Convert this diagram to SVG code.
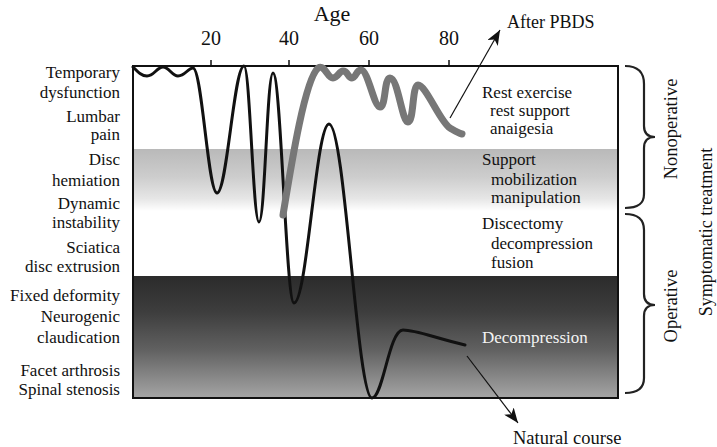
<svg xmlns="http://www.w3.org/2000/svg" width="717" height="447" viewBox="0 0 717 447" font-family="'Liberation Serif', 'DejaVu Serif', serif">
<style>
text{font-family:'Liberation Serif','DejaVu Serif',serif;fill:#111}
.l{font-size:17px;text-anchor:end}
.r{font-size:17px}
.ax{font-size:20px;text-anchor:middle}
.v{font-size:18.5px;text-anchor:middle}
.frame{fill:none;stroke:#111;stroke-width:2}
.br{fill:none;stroke:#222;stroke-width:2.2}
.arr{stroke:#111;stroke-width:1.2;fill:none}
</style>
<defs>
<linearGradient id="gband" x1="0" y1="0" x2="0" y2="1">
<stop offset="0" stop-color="#b9b9b9"/>
<stop offset="0.45" stop-color="#cdcdcd"/>
<stop offset="0.8" stop-color="#e6e6e6"/>
<stop offset="1" stop-color="#ffffff"/>
</linearGradient>
<linearGradient id="dband" x1="0" y1="0" x2="0" y2="1">
<stop offset="0" stop-color="#2b2b2b"/>
<stop offset="0.3" stop-color="#3e3e3e"/>
<stop offset="0.6" stop-color="#606060"/>
<stop offset="1" stop-color="#a5a5a5"/>
</linearGradient>
<marker id="ah" markerUnits="userSpaceOnUse" markerWidth="16" markerHeight="12" refX="15" refY="6" orient="auto">
<path d="M0,0 L15,6 L0,12 L4,6 z" fill="#111"/>
</marker>
</defs>
<rect width="717" height="447" fill="#fff"/>
<g id="plot">
<rect x="133" y="149" width="485" height="62" fill="url(#gband)"/>
<rect x="133" y="276" width="485" height="122" fill="url(#dband)"/>
<rect class="frame" x="133" y="66" width="485" height="332"/>
<path d="M211,60V66M289,60V66M369,60V66M449,60V66" stroke="#111" stroke-width="1.5"/>
</g>
<g id="axis">
<text x="332" y="21" font-size="22" text-anchor="middle">Age</text>
<text class="ax" x="211" y="45">20</text>
<text class="ax" x="289" y="45">40</text>
<text class="ax" x="369" y="45">60</text>
<text class="ax" x="449" y="45">80</text>
</g>
<g id="curves">
<path id="natural-course" d="M133,67 C139,73 142,76 147,76 C154,76 157,67 163,67 C169,67 172,76 178,76 C185,76 188,68 193,68 C202,68 208,193 217,193 C227,193 234,66 244,66 C250,66 253,222 259,222 C265,222 267,73 273,73 C281,73 286,303 294,303 C307,303 316,124 329,124 C345,124 357,398 372,398 C383,398 389,330 403,330 C416,330 432,337 465,345" fill="none" stroke="#111" stroke-width="3" stroke-linecap="round"/>
<path id="after-pbds" d="M283,215 C292,160 305,80 318,68 C325,64 327,78 333,78 C338,78 339,71 343,71 C348,71 348,78 352,78 C356,78 356,70 361,70 C368,70 374,107 380,107 C386,107 384,78 390,78 C398,78 402,122 408,122 C414,122 412,85 418,85 C426,85 440,122 450,128 C455,131 458,133 462,134" fill="none" stroke="#777" stroke-width="7" stroke-linecap="round" stroke-linejoin="round"/>
</g>
<g id="left-labels">
<text class="l" x="120" y="78">Temporary</text>
<text class="l" x="120" y="98">dysfunction</text>
<text class="l" x="120" y="122">Lumbar</text>
<text class="l" x="120" y="140">pain</text>
<text class="l" x="120" y="165">Disc</text>
<text class="l" x="120" y="186">hemiation</text>
<text class="l" x="120" y="209">Dynamic</text>
<text class="l" x="120" y="228">instability</text>
<text class="l" x="120" y="253">Sciatica</text>
<text class="l" x="120" y="272">disc extrusion</text>
<text class="l" x="120" y="301">Fixed deformity</text>
<text class="l" x="120" y="322">Neurogenic</text>
<text class="l" x="120" y="343">claudication</text>
<text class="l" x="120" y="376">Facet arthrosis</text>
<text class="l" x="120" y="395">Spinal stenosis</text>
</g>
<g id="treatment-labels">
<text class="r" x="482" y="98">Rest exercise</text>
<text class="r" x="490" y="116">rest support</text>
<text class="r" x="490" y="134">anaigesia</text>
<text class="r" x="482" y="165">Support</text>
<text class="r" x="491" y="185">mobilization</text>
<text class="r" x="491" y="203">manipulation</text>
<text class="r" x="482" y="229">Discectomy</text>
<text class="r" x="491" y="249">decompression</text>
<text class="r" x="491" y="268">fusion</text>
<text class="r" x="482" y="343" fill="#f4f4f4" style="fill:#f4f4f4">Decompression</text>
</g>
<g id="brackets">
<path class="br" d="M625,66 C638,66 644,72 644,84 V126 C644,133 647,137 655,137 C647,137 644,141 644,148 V194 C644,204 638,208 625,208"/>
<path class="br" d="M625,214 C638,214 644,219 644,230 V294 C644,301 647,305 655,305 C647,305 644,309 644,316 V378 C644,388 638,393 625,393"/>
<text class="v" transform="translate(677,129) rotate(-90)">Nonoperative</text>
<text class="v" transform="translate(677,306) rotate(-90)">Operative</text>
<text class="v" transform="translate(712,232) rotate(-90)" font-size="18" style="font-size:18px">Symptomatic treatment</text>
</g>
<g id="connectors">
<line class="arr" x1="450" y1="118" x2="500" y2="30" marker-end="url(#ah)"/>
<line class="arr" x1="467" y1="356" x2="518" y2="423" marker-end="url(#ah)"/>
</g>
<g id="arrow-labels">
<text x="507" y="28" font-size="18">After PBDS</text>
<text x="513" y="444" font-size="18.5">Natural course</text>
</g>
</svg>
